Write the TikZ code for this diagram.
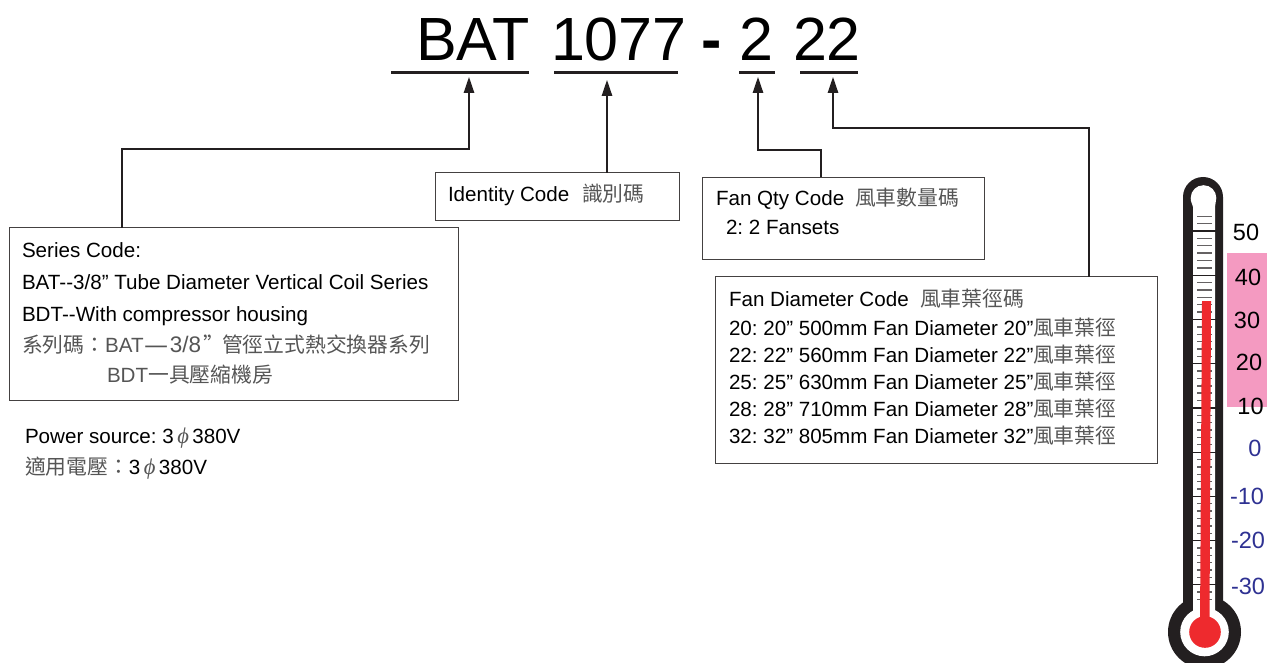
\documentclass[tikz,border=0pt]{standalone}
\usepackage{fontspec}
\setmainfont{Liberation Sans}
\newfontfamily\cjk{Noto Sans CJK TC}
\newfontfamily\phifont{Liberation Serif}[ItalicFont={Liberation Serif Italic}]
\usetikzlibrary{arrows.meta}
\definecolor{ink}{HTML}{231F20}
\definecolor{cjkgrey}{HTML}{555555}
\definecolor{navy}{HTML}{2E3192}
\definecolor{pinkband}{HTML}{F49AC1}
\definecolor{thermred}{HTML}{EE2A2E}
\newcommand{\zh}[1]{{\cjk\color{cjkgrey}\fontsize{20.8}{20.8}\selectfont #1}}
\newcommand{\ph}{{\phifont\itshape\color{cjkgrey}\fontsize{22.5}{22.5}\selectfont\char"03D5}}
\tikzset{
  x=1pt,y=-1pt,
  box/.style={draw=ink!85,line width=1pt},
  txt/.style={anchor=base west,inner sep=0pt,outer sep=0pt,font=\fontsize{20.6}{20.6}\selectfont\frenchspacing,text=black},
  big/.style={anchor=base west,inner sep=0pt,outer sep=0pt,font=\fontsize{61}{61}\selectfont,text=black},
  uline/.style={ink,line width=3.6pt},
  conn/.style={draw=ink,line width=1.3pt,-{Triangle[length=16pt,width=10.5pt]}},
  scalehot/.style={anchor=base,inner sep=0pt,font=\fontsize{23.5}{23.5}\selectfont,text=black},
  scalecold/.style={anchor=base,inner sep=0pt,font=\fontsize{23.5}{23.5}\selectfont,text=navy},
  minortick/.style={draw=ink!70,line width=1.4pt},
  majortick/.style={draw=ink,line width=1.2pt},
}
\begin{document}
\begin{tikzpicture}
\useasboundingbox (0,0) rectangle (1267,663);
% title
\node[big] (tbat) at (416,61) {BAT};
\node[big] (tnum) at (551,61) {1077};
\node[big,font=\fontsize{61}{61}\selectfont\bfseries] (tdash) at (701.5,61) {-};
\node[big] (tqty) at (739,61) {2};
\node[big] (tdia) at (793,61) {22};
\draw[uline] (391,72.5) -- (529,72.5);
\draw[uline] (554,72.5) -- (678,72.5);
\draw[uline] (739,72.5) -- (775,72.5);
\draw[uline] (800,72.5) -- (858,72.5);
\coordinate (abat) at (469,77);
\coordinate (anum) at (607,80);
\coordinate (aqty) at (758,77);
\coordinate (adia) at (833,77);
% boxes
\path[box] (9,228) rectangle (458,400);
\coordinate (bseries) at (122,228);
\path[box] (435.5,173) rectangle (679,221);
\coordinate (bident) at (607,173);
\path[box] (702,177.5) rectangle (984,260);
\coordinate (bqty) at (821,177.5);
\path[box] (715.5,277) rectangle (1157,463);
\coordinate (bdia) at (1089,277);
% connectors
\draw[conn] (bseries) |- (469,149) -- (abat);
\draw[conn] (bident) -- (anum);
\draw[conn] (bqty) |- (758,150) -- (aqty);
\draw[conn] (bdia) |- (833,128) -- (adia);
% series text
\node[txt] (s1) at (22,258) {Series Code:};
\node[txt] (s2) at (22,290) {BAT-{}-3/8” Tube Diameter Vertical Coil Series};
\node[txt] (s3) at (22,321) {BDT-{}-With compressor housing};
\node[txt,text=cjkgrey] (s4) at (22,352) {\zh{系列碼：}BAT\hspace{1pt}\raisebox{-2pt}{\cjk\fontsize{27}{27}\selectfont —}\hspace{1pt}\fontsize{22.5}{22.5}\selectfont 3/8\hspace{2pt}\zh{”}};
\node[txt] (s4b) at (222,352) {\zh{管徑立式熱交換器系列}};
\node[txt,text=cjkgrey] (s5) at (107,382) {BDT\zh{一具壓縮機房}};
\node[txt] (p1) at (25,443) {Power source: 3\,\ph\,380V};
\node[txt] (p2) at (25,474) {\zh{適用電壓：}3\,\ph\,380V};
% identity
\node[txt] (i1) at (448,202) {Identity Code};
\node[txt] (i2) at (582,202) {\zh{識別碼}};
% fan qty
\node[txt] (q1) at (716,206) {Fan Qty Code};
\node[txt] (q1b) at (855,206) {\zh{風車數量碼}};
\node[txt] (q2) at (726,235) {2: 2 Fansets};
% fan diameter
\node[txt] (d0) at (729,306) {Fan Diameter Code};
\node[txt] (d0b) at (920,306) {\zh{風車葉徑碼}};
\node[txt] (d1) at (729,335) {20: 20” 500mm Fan Diameter 20”};
\node[txt] (d2) at (729,362) {22: 22” 560mm Fan Diameter 22”};
\node[txt] (d3) at (729,389) {25: 25” 630mm Fan Diameter 25”};
\node[txt] (d4) at (729,416) {28: 28” 710mm Fan Diameter 28”};
\node[txt] (d5) at (729,443) {32: 32” 805mm Fan Diameter 32”};
\foreach \y/\n in {335/e1,362/e2,389/e3,416/e4,443/e5}
  \node[txt] (\n) at (1033,\y) {\zh{風車葉徑}};
% thermometer
\fill[pinkband] (1227,253) rectangle (1267,407);
\fill[ink] (1183,197) arc[start angle=180,end angle=360,radius=20] -- (1223,610) -- (1183,610) -- cycle;
\fill[ink] (1204.5,632) circle[radius=36.5];
\fill[white] (1204.5,632) circle[radius=24.3];
\fill[white] (1193,616) -- (1193,207) .. controls (1192,203) and (1190.7,202) .. (1190.7,198)
  arc[start angle=180,end angle=360,radius=12.8] .. controls (1216.3,202) and (1215,203) .. (1215,207) -- (1215,616) -- cycle;
\foreach \k in {0,...,52}{
  \pgfmathtruncatemacro{\m}{mod(\k+4,6)}
  \pgfmathsetmacro{\yy}{216.3+7.37*\k}
  \ifnum\m=0\relax
    \draw[majortick] (1193,\yy) -- (1216,\yy);
  \else
    \draw[minortick] (1197,\yy) -- (1212,\yy);
  \fi
}
\fill[thermred] (1202,301) -- (1211,301) -- (1209.5,625) -- (1200,625) -- cycle;
\fill[thermred] (1205,632) circle[radius=15.8];
% scale
\foreach \x/\y/\t/\n in {1246/240.4/50/n50,1248/285.4/40/n40,1247/328.4/30/n30,1249/370.4/20/n20,1250.5/414.4/10/n10}
  \node[scalehot] (\n) at (\x,\y) {\t};
\foreach \x/\y/\t/\n in {1255/456.4/0/n0,1247/504.4/-10/m10,1248/548.4/-20/m20,1248/594.4/-30/m30}
  \node[scalecold] (\n) at (\x,\y) {\t};
\end{tikzpicture}
\end{document}
